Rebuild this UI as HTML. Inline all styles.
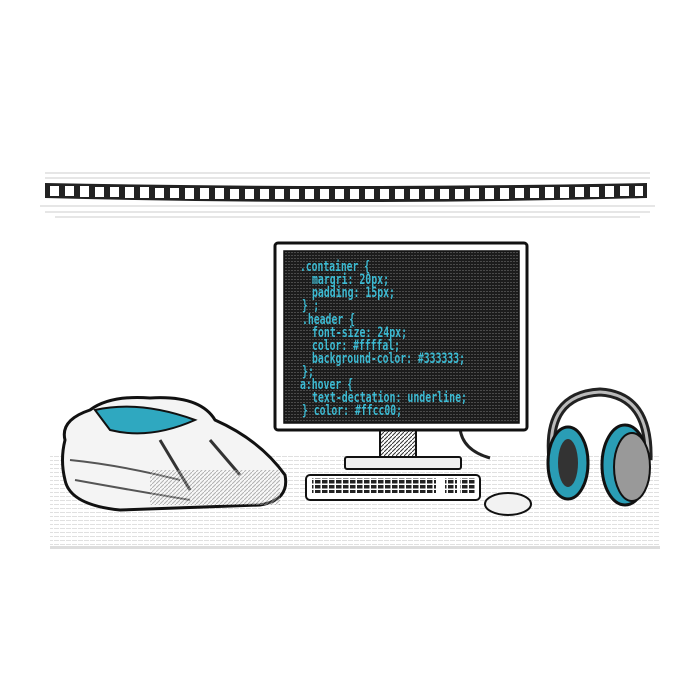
<!DOCTYPE html>
<html><head><style>
body{margin:0;background:#fff;width:700px;height:700px;overflow:hidden}
svg{display:block}
</style></head><body>
<svg width="700" height="700" viewBox="0 0 700 700" xmlns="http://www.w3.org/2000/svg">
<defs>
<pattern id="hl" width="6" height="4" patternUnits="userSpaceOnUse"><rect width="5" height="1" fill="#ccc"/></pattern>
<pattern id="scr" width="3" height="3" patternUnits="userSpaceOnUse"><rect width="3" height="3" fill="#1c1c1c"/><rect width="2" height="1" fill="#4a4a4a"/></pattern>
<pattern id="hatch" width="4" height="4" patternUnits="userSpaceOnUse"><rect width="4" height="4" fill="#fff"/><path d="M0 4L4 0" stroke="#333" stroke-width="1"/></pattern>
<pattern id="keys" width="7" height="5" patternUnits="userSpaceOnUse"><rect width="7" height="5" fill="#fff"/><rect width="5.5" height="3.5" fill="#222"/></pattern>
</defs>
<g stroke="#ccc" stroke-width="1">
<line x1="45" y1="173" x2="650" y2="173"/><line x1="45" y1="178" x2="650" y2="178"/>
<line x1="40" y1="206" x2="655" y2="206"/><line x1="45" y1="212" x2="650" y2="212"/><line x1="55" y1="217" x2="640" y2="217"/>
</g>
<path d="M45 183 Q346 189 647 183 L647 198 Q346 206 45 198Z" fill="#222"/>
<g fill="#fff">
<rect x="50" y="186" width="9" height="10"/><rect x="65" y="186" width="9" height="10"/><rect x="80" y="186" width="9" height="11"/><rect x="95" y="187" width="9" height="10"/><rect x="110" y="187" width="9" height="10"/><rect x="125" y="187" width="9" height="11"/><rect x="140" y="187" width="9" height="11"/><rect x="155" y="188" width="9" height="10"/><rect x="170" y="188" width="9" height="10"/><rect x="185" y="188" width="9" height="11"/><rect x="200" y="188" width="9" height="11"/><rect x="215" y="188" width="9" height="11"/><rect x="230" y="189" width="9" height="10"/><rect x="245" y="189" width="9" height="10"/><rect x="260" y="189" width="9" height="10"/><rect x="275" y="189" width="9" height="10"/><rect x="290" y="189" width="9" height="10"/><rect x="305" y="189" width="9" height="10"/><rect x="320" y="189" width="9" height="10"/><rect x="335" y="189" width="9" height="10"/><rect x="350" y="189" width="9" height="10"/><rect x="365" y="189" width="9" height="10"/><rect x="380" y="189" width="9" height="10"/><rect x="395" y="189" width="9" height="10"/><rect x="410" y="189" width="9" height="10"/><rect x="425" y="189" width="9" height="10"/><rect x="440" y="189" width="9" height="10"/><rect x="455" y="189" width="9" height="10"/><rect x="470" y="188" width="9" height="11"/><rect x="485" y="188" width="9" height="11"/><rect x="500" y="188" width="9" height="11"/><rect x="515" y="188" width="9" height="10"/><rect x="530" y="188" width="9" height="10"/><rect x="545" y="187" width="9" height="11"/><rect x="560" y="187" width="9" height="11"/><rect x="575" y="187" width="9" height="10"/><rect x="590" y="187" width="9" height="10"/><rect x="605" y="186" width="9" height="11"/><rect x="620" y="186" width="9" height="10"/><rect x="635" y="186" width="8" height="10"/>
</g>
<rect x="50" y="455" width="610" height="95" fill="url(#hl)" opacity="0.6"/>
<rect x="50" y="546" width="610" height="3" fill="#ddd"/>
<rect x="380" y="428" width="36" height="32" fill="url(#hatch)" stroke="#111" stroke-width="2"/>
<path d="M460 428 Q462 450 490 458" stroke="#222" stroke-width="3" fill="none"/>
<rect x="345" y="457" width="116" height="12" rx="2" fill="#eee" stroke="#111" stroke-width="2"/>
<rect x="275" y="243" width="252" height="187" rx="3" fill="#fff" stroke="#111" stroke-width="3"/>
<rect x="284" y="251" width="235" height="172" fill="url(#scr)" stroke="#111" stroke-width="1.5"/>
<g font-family="DejaVu Sans Mono, monospace" font-weight="bold" font-size="14" fill="#3cbad2">
<text x="300" y="271" textLength="70" lengthAdjust="spacingAndGlyphs">.container {</text>
<text x="312" y="284" textLength="77" lengthAdjust="spacingAndGlyphs">margri: 20px;</text>
<text x="312" y="297" textLength="83" lengthAdjust="spacingAndGlyphs">padding: 15px;</text>
<text x="302" y="310" textLength="17" lengthAdjust="spacingAndGlyphs">} ;</text>
<text x="302" y="324" textLength="53" lengthAdjust="spacingAndGlyphs">.header {</text>
<text x="312" y="337" textLength="95" lengthAdjust="spacingAndGlyphs">font-size: 24px;</text>
<text x="312" y="350" textLength="88" lengthAdjust="spacingAndGlyphs">color: #ffffal;</text>
<text x="312" y="363" textLength="153" lengthAdjust="spacingAndGlyphs">background-color: #333333;</text>
<text x="302" y="376" textLength="12" lengthAdjust="spacingAndGlyphs">};</text>
<text x="300" y="389" textLength="53" lengthAdjust="spacingAndGlyphs">a:hover {</text>
<text x="312" y="402" textLength="155" lengthAdjust="spacingAndGlyphs">text-dectation: underline;</text>
<text x="302" y="415" textLength="100" lengthAdjust="spacingAndGlyphs">} color: #ffcc00;</text>
</g>
<rect x="306" y="475" width="174" height="25" rx="4" fill="#fff" stroke="#111" stroke-width="2"/>
<rect x="312" y="478" width="124" height="15" fill="url(#keys)"/>
<rect x="445" y="478" width="12" height="15" fill="url(#keys)"/>
<rect x="460" y="478" width="16" height="15" fill="url(#keys)"/>
<ellipse cx="508" cy="504" rx="23" ry="11" fill="#f2f2f2" stroke="#111" stroke-width="2"/>
<path d="M65 440 Q60 420 90 410 Q110 395 150 398 Q200 395 215 420 Q260 440 285 475 Q290 500 260 505 L120 510 Q70 505 65 480 Q60 460 65 440Z" fill="#f4f4f4" stroke="#111" stroke-width="3"/>
<path d="M70 460 Q120 465 180 480 M75 480 Q130 490 190 500" stroke="#555" stroke-width="2" fill="none"/>
<path d="M95 410 Q140 400 195 420 Q150 440 110 430Z" fill="#2fa8c0" stroke="#111" stroke-width="2"/>
<path d="M160 440 L190 490 M210 440 L240 475" stroke="#333" stroke-width="3"/>
<rect x="150" y="470" width="130" height="35" fill="url(#hatch)" opacity="0.35"/>
<path d="M552 460 Q545 395 600 392 Q650 395 648 460" stroke="#222" stroke-width="9" fill="none"/>
<path d="M552 460 Q545 395 600 392 Q650 395 648 460" stroke="#bbb" stroke-width="3" fill="none"/>
<ellipse cx="568" cy="463" rx="20" ry="36" fill="#2a9db5" stroke="#111" stroke-width="3"/>
<ellipse cx="568" cy="463" rx="10" ry="24" fill="#333"/>
<ellipse cx="625" cy="465" rx="23" ry="40" fill="#2a9db5" stroke="#111" stroke-width="3"/>
<ellipse cx="632" cy="467" rx="18" ry="34" fill="#999" stroke="#111" stroke-width="2"/>
</svg>
</body></html>
